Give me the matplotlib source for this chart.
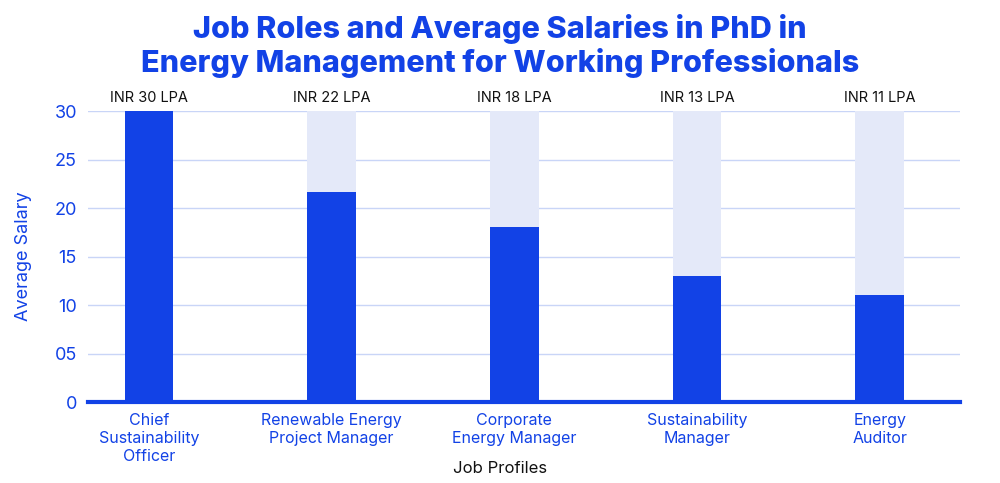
import matplotlib.pyplot as plt
import numpy as np

plt.rcParams['font.family'] = ['Inter', 'DejaVu Sans']

roles = ["Chief\nSustainability\nOfficer", "Renewable Energy\nProject Manager",
         "Corporate\nEnergy Manager", "Sustainability\nManager", "Energy\nAuditor"]
salaries = [30, 21.7, 18, 13, 11]
labels = ["INR 30 LPA", "INR 22 LPA", "INR 18 LPA", "INR 13 LPA", "INR 11 LPA"]
max_salary = 30
yticks = [0, 5, 10, 15, 20, 25, 30]
ytick_labels = ["0", "05", "10", "15", "20", "25", "30"]

blue = '#1242e6'
track = '#e4e9f9'
grid = '#c9d5f7'

fig = plt.figure(figsize=(10, 4.83), dpi=100)
ax = fig.add_axes([0.088, 0.1677, 0.872, 0.6023])

x = np.arange(len(roles))
w = 0.265
ax.bar(x, [max_salary] * len(roles), width=w, color=track, zorder=1)
ax.bar(x, salaries, width=w, color=blue, zorder=2)

for xi, lab in zip(x, labels):
    ax.text(xi, max_salary + 0.6, lab, ha='center', va='bottom', fontsize=10.5, color='#111111')

ax.set_xlim(-0.334, 4.44)
ax.set_ylim(0, 30)
ax.set_yticks(yticks)
ax.set_yticklabels(ytick_labels, fontsize=13, color=blue)
ax.set_xticks(x)
ax.set_xticklabels(roles, fontsize=11.5, color=blue, linespacing=1.25)
ax.tick_params(axis='both', length=0, pad=8)

ax.yaxis.grid(True, color=grid, linewidth=1, zorder=0)
ax.set_axisbelow(True)
for s in ['top', 'right', 'left']:
    ax.spines[s].set_visible(False)
ax.spines['bottom'].set_color(blue)
ax.spines['bottom'].set_linewidth(3)
ax.spines['bottom'].set_zorder(3)

ax.set_ylabel("Average Salary", fontsize=13, color=blue, labelpad=16)
ax.set_xlabel("Job Profiles", fontsize=12, color='#111111', va='center')
ax.xaxis.set_label_coords(0.473, -0.227)

fig.suptitle("Job Roles and Average Salaries in PhD in\nEnergy Management for Working Professionals",
             fontsize=22, fontweight='heavy', color=blue, y=0.97, va='top', linespacing=1.15)

fig.savefig('out.png', dpi=100)
